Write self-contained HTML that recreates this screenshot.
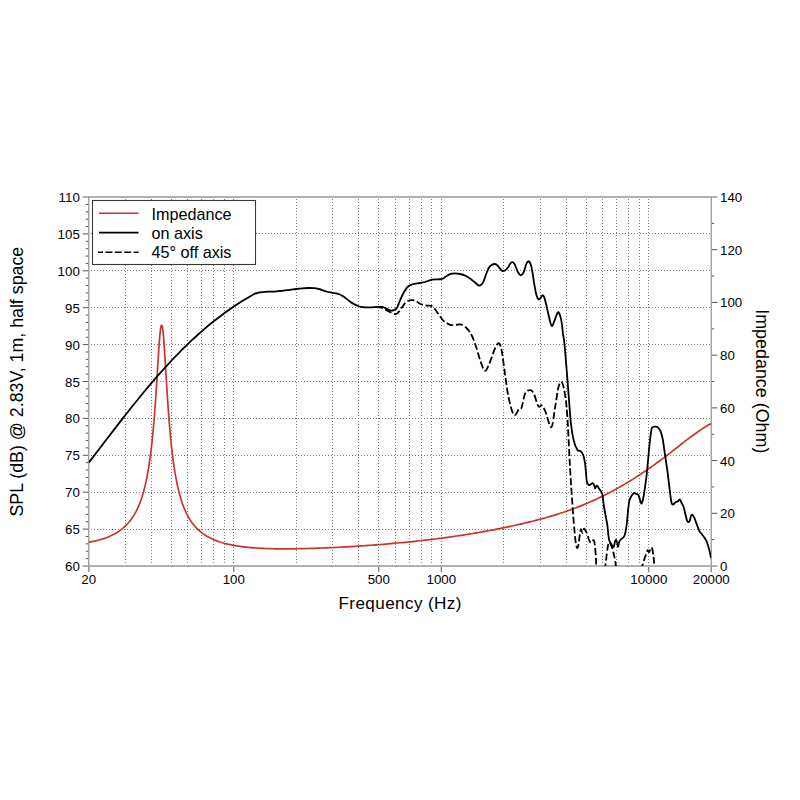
<!DOCTYPE html>
<html><head><meta charset="utf-8"><style>
html,body{margin:0;padding:0;background:#fff;}
svg{display:block;font-family:"Liberation Sans",sans-serif;}
</style></head><body>
<svg width="800" height="800" viewBox="0 0 800 800">
<rect width="800" height="800" fill="#fff"/>
<g stroke="#777" stroke-width="1" stroke-dasharray="1 2" fill="none">
<path d="M125.50 199.00 V566.00 M151.50 199.00 V566.00 M171.50 199.00 V566.00 M187.50 199.00 V566.00 M201.50 199.00 V566.00 M213.50 199.00 V566.00 M224.50 199.00 V566.00 M233.50 199.00 V566.00 M296.50 199.00 V566.00 M332.50 199.00 V566.00 M358.50 199.00 V566.00 M378.50 199.00 V566.00 M395.50 199.00 V566.00 M409.50 199.00 V566.00 M421.50 199.00 V566.00 M431.50 199.00 V566.00 M441.50 199.00 V566.00 M503.50 199.00 V566.00 M540.50 199.00 V566.00 M566.50 199.00 V566.00 M586.50 199.00 V566.00 M602.50 199.00 V566.00 M616.50 199.00 V566.00 M628.50 199.00 V566.00 M639.50 199.00 V566.00 M648.50 199.00 V566.00"/>
<path d="M91.00 529.50 H710.25 M91.00 492.50 H710.25 M91.00 455.50 H710.25 M91.00 418.50 H710.25 M91.00 381.50 H710.25 M91.00 344.50 H710.25 M91.00 307.50 H710.25 M91.00 270.50 H710.25 M91.00 233.50 H710.25"/>
</g>
<path d="M82.75 566.00 H88.75 M85.75 558.62 H88.75 M85.75 551.24 H88.75 M85.75 543.86 H88.75 M85.75 536.48 H88.75 M82.75 529.10 H88.75 M85.75 521.72 H88.75 M85.75 514.34 H88.75 M85.75 506.96 H88.75 M85.75 499.58 H88.75 M82.75 492.20 H88.75 M85.75 484.82 H88.75 M85.75 477.44 H88.75 M85.75 470.06 H88.75 M85.75 462.68 H88.75 M82.75 455.30 H88.75 M85.75 447.92 H88.75 M85.75 440.54 H88.75 M85.75 433.16 H88.75 M85.75 425.78 H88.75 M82.75 418.40 H88.75 M85.75 411.02 H88.75 M85.75 403.64 H88.75 M85.75 396.26 H88.75 M85.75 388.88 H88.75 M82.75 381.50 H88.75 M85.75 374.12 H88.75 M85.75 366.74 H88.75 M85.75 359.36 H88.75 M85.75 351.98 H88.75 M82.75 344.60 H88.75 M85.75 337.22 H88.75 M85.75 329.84 H88.75 M85.75 322.46 H88.75 M85.75 315.08 H88.75 M82.75 307.70 H88.75 M85.75 300.32 H88.75 M85.75 292.94 H88.75 M85.75 285.56 H88.75 M85.75 278.18 H88.75 M82.75 270.80 H88.75 M85.75 263.42 H88.75 M85.75 256.04 H88.75 M85.75 248.66 H88.75 M85.75 241.28 H88.75 M82.75 233.90 H88.75 M85.75 226.52 H88.75 M85.75 219.14 H88.75 M85.75 211.76 H88.75 M85.75 204.38 H88.75 M82.75 197.00 H88.75 M711.25 566.00 H717.25 M711.25 539.64 H714.25 M711.25 513.29 H717.25 M711.25 486.93 H714.25 M711.25 460.57 H717.25 M711.25 434.21 H714.25 M711.25 407.86 H717.25 M711.25 381.50 H714.25 M711.25 355.14 H717.25 M711.25 328.79 H714.25 M711.25 302.43 H717.25 M711.25 276.07 H714.25 M711.25 249.71 H717.25 M711.25 223.36 H714.25 M711.25 197.00 H717.25 M88.75 566.00 V572.00 M233.79 566.00 V572.00 M378.82 566.00 V572.00 M441.29 566.00 V572.00 M648.79 566.00 V572.00 M711.25 566.00 V572.00" stroke="#555" stroke-width="1" fill="none"/>
<path d="M82.75 197.0H717.25 M82.75 566.0H717.25" stroke="#b0b0b0" stroke-width="1.8" fill="none"/>
<path d="M88.75 197.0V572.0 M711.25 197.0V572.0" stroke="#999" stroke-width="1.3" fill="none"/>
<defs><clipPath id="cp"><rect x="88.75" y="197.0" width="622.5" height="369.0"/></clipPath></defs>
<g clip-path="url(#cp)" fill="none" stroke-linejoin="round">
<path d="M88.75 542.17 L90.32 541.90 L91.89 541.61 L93.46 541.30 L95.03 540.96 L96.60 540.60 L98.17 540.21 L99.74 539.79 L101.31 539.34 L102.88 538.85 L104.46 538.33 L106.03 537.78 L107.60 537.18 L109.17 536.53 L110.74 535.84 L112.31 535.09 L113.88 534.29 L115.45 533.42 L117.02 532.49 L118.59 531.48 L120.16 530.38 L121.73 529.20 L123.30 527.91 L124.87 526.50 L126.44 524.97 L128.01 523.29 L129.58 521.44 L131.15 519.40 L132.72 517.15 L134.29 514.64 L135.87 511.84 L137.44 508.70 L139.01 505.14 L140.58 501.10 L142.15 496.47 L143.72 491.13 L145.29 484.90 L146.86 477.58 L148.43 468.88 L150.00 458.45 L150.10 457.72 L150.31 456.15 L150.52 454.55 L150.73 452.90 L150.94 451.21 L151.15 449.48 L151.36 447.69 L151.56 445.87 L151.77 443.99 L151.98 442.06 L152.19 440.08 L152.40 438.04 L152.61 435.96 L152.82 433.81 L153.03 431.61 L153.24 429.35 L153.45 427.03 L153.66 424.64 L153.87 422.20 L154.08 419.69 L154.28 417.12 L154.49 414.48 L154.70 411.78 L154.91 409.01 L155.12 406.18 L155.33 403.28 L155.54 400.32 L155.75 397.30 L155.96 394.21 L156.17 391.07 L156.38 387.88 L156.59 384.64 L156.80 381.35 L157.01 378.03 L157.21 374.68 L157.42 371.31 L157.63 367.92 L157.84 364.54 L158.05 361.17 L158.26 357.83 L158.47 354.53 L158.68 351.29 L158.89 348.14 L159.10 345.09 L159.31 342.17 L159.52 339.40 L159.73 336.82 L159.93 334.44 L160.14 332.30 L160.35 330.43 L160.56 328.85 L160.77 327.57 L160.98 326.60 L161.19 325.92 L161.40 325.52 L161.61 325.39 L161.82 325.52 L162.03 325.91 L162.24 326.55 L162.45 327.47 L162.65 328.67 L162.86 330.16 L163.07 331.94 L163.28 334.00 L163.49 336.31 L163.70 338.86 L163.91 341.60 L164.12 344.52 L164.33 347.59 L164.54 350.77 L164.75 354.05 L164.96 357.40 L165.17 360.80 L165.37 364.24 L165.58 367.70 L165.79 371.16 L166.00 374.61 L166.21 378.05 L166.42 381.46 L166.63 384.84 L166.84 388.17 L167.05 391.46 L167.26 394.69 L167.47 397.86 L167.68 400.97 L167.89 404.02 L168.09 407.01 L168.30 409.93 L168.51 412.78 L168.72 415.56 L168.93 418.28 L169.14 420.93 L169.35 423.52 L169.56 426.04 L169.77 428.49 L169.98 430.88 L170.19 433.21 L170.40 435.47 L170.61 437.68 L170.82 439.83 L171.02 441.92 L171.23 443.96 L171.44 445.94 L171.65 447.87 L171.86 449.75 L172.07 451.58 L172.28 453.36 L172.49 455.10 L172.70 456.79 L172.91 458.43 L173.12 460.04 L173.33 461.60 L173.54 463.12 L173.74 464.61 L173.95 466.05 L174.16 467.47 L174.37 468.84 L174.58 470.18 L174.79 471.49 L175.00 472.77 L175.10 473.37 L177.55 486.12 L180.00 495.96 L182.44 503.72 L184.89 509.97 L187.34 515.10 L189.79 519.36 L192.24 522.95 L194.69 526.01 L197.13 528.64 L199.58 530.92 L202.03 532.91 L204.48 534.66 L206.93 536.20 L209.37 537.57 L211.82 538.78 L214.27 539.87 L216.72 540.84 L219.17 541.71 L221.62 542.49 L224.06 543.20 L226.51 543.84 L228.96 544.41 L231.41 544.93 L233.86 545.40 L236.30 545.82 L238.75 546.20 L241.20 546.55 L243.65 546.86 L246.10 547.14 L248.55 547.39 L250.99 547.61 L253.44 547.81 L255.89 547.99 L258.34 548.15 L260.79 548.29 L263.23 548.41 L265.68 548.51 L268.13 548.60 L270.58 548.67 L273.03 548.73 L275.48 548.78 L277.92 548.81 L280.37 548.83 L282.82 548.85 L285.27 548.85 L287.72 548.85 L290.16 548.83 L292.61 548.81 L295.06 548.78 L297.51 548.74 L299.96 548.69 L302.41 548.64 L304.85 548.59 L307.30 548.52 L309.75 548.45 L312.20 548.38 L314.65 548.30 L317.09 548.21 L319.54 548.12 L321.99 548.02 L324.44 547.92 L326.89 547.82 L329.33 547.71 L331.78 547.60 L334.23 547.48 L336.68 547.36 L339.13 547.23 L341.58 547.10 L344.02 546.97 L346.47 546.83 L348.92 546.68 L351.37 546.54 L353.82 546.39 L356.26 546.24 L358.71 546.08 L361.16 545.92 L363.61 545.75 L366.06 545.58 L368.51 545.41 L370.95 545.23 L373.40 545.05 L375.85 544.86 L378.30 544.67 L380.75 544.48 L383.19 544.28 L385.64 544.08 L388.09 543.87 L390.54 543.66 L392.99 543.44 L395.44 543.22 L397.88 543.00 L400.33 542.77 L402.78 542.53 L405.23 542.30 L407.68 542.05 L410.12 541.80 L412.57 541.55 L415.02 541.29 L417.47 541.02 L419.92 540.75 L422.37 540.48 L424.81 540.20 L427.26 539.91 L429.71 539.62 L432.16 539.33 L434.61 539.02 L437.05 538.72 L439.50 538.40 L441.95 538.08 L444.40 537.75 L446.85 537.42 L449.30 537.08 L451.74 536.74 L454.19 536.39 L456.64 536.03 L459.09 535.66 L461.54 535.29 L463.98 534.91 L466.43 534.53 L468.88 534.13 L471.33 533.73 L473.78 533.33 L476.23 532.91 L478.67 532.49 L481.12 532.06 L483.57 531.63 L486.02 531.18 L488.47 530.73 L490.91 530.27 L493.36 529.81 L495.81 529.33 L498.26 528.85 L500.71 528.36 L503.16 527.86 L505.60 527.35 L508.05 526.84 L510.50 526.32 L512.95 525.78 L515.40 525.24 L517.84 524.69 L520.29 524.14 L522.74 523.57 L525.19 522.99 L527.64 522.41 L530.09 521.81 L532.53 521.20 L534.98 520.58 L537.43 519.94 L539.88 519.29 L542.33 518.63 L544.77 517.96 L547.22 517.27 L549.67 516.56 L552.12 515.83 L554.57 515.09 L557.02 514.33 L559.46 513.56 L561.91 512.76 L564.36 511.94 L566.81 511.11 L569.26 510.25 L571.70 509.37 L574.15 508.47 L576.60 507.54 L579.05 506.59 L581.50 505.62 L583.94 504.62 L586.39 503.59 L588.84 502.54 L591.29 501.46 L593.74 500.36 L596.19 499.23 L598.63 498.07 L601.08 496.88 L603.53 495.67 L605.98 494.44 L608.43 493.18 L610.87 491.89 L613.32 490.58 L615.77 489.24 L618.22 487.87 L620.67 486.48 L623.12 485.07 L625.56 483.62 L628.01 482.16 L630.46 480.66 L632.91 479.15 L635.36 477.60 L637.80 476.03 L640.25 474.44 L642.70 472.82 L645.15 471.17 L647.60 469.50 L650.05 467.81 L652.49 466.08 L654.94 464.34 L657.39 462.56 L659.84 460.76 L662.29 458.94 L664.73 457.09 L667.18 455.21 L669.63 453.32 L672.08 451.41 L674.53 449.49 L676.98 447.56 L679.42 445.64 L681.87 443.73 L684.32 441.83 L686.77 439.95 L689.22 438.10 L691.66 436.27 L694.11 434.48 L696.56 432.73 L699.01 431.03 L701.46 429.37 L703.91 427.78 L706.35 426.25 L708.80 424.79 L711.25 423.40" stroke="#c8352c" stroke-width="1.7"/>
<path d="M376.00 307.20 C376.67 307.23 378.83 307.20 380.00 307.40 C381.17 307.60 382.00 307.97 383.00 308.40 C384.00 308.83 384.83 309.40 386.00 310.00 C387.17 310.60 388.50 311.33 390.00 312.00 C391.50 312.67 393.67 313.87 395.00 314.00 C396.33 314.13 396.83 313.92 398.00 312.80 C399.17 311.68 400.67 309.07 402.00 307.30 C403.33 305.53 404.50 303.38 406.00 302.20 C407.50 301.02 409.33 300.40 411.00 300.20 C412.67 300.00 414.50 300.40 416.00 301.00 C417.50 301.60 418.33 303.05 420.00 303.80 C421.67 304.55 424.12 305.15 426.00 305.50 C427.88 305.85 429.75 305.27 431.25 305.90 C432.75 306.52 433.75 307.82 435.00 309.25 C436.25 310.68 437.50 312.75 438.75 314.50 C440.00 316.25 441.25 318.38 442.50 319.75 C443.75 321.12 445.00 321.91 446.25 322.75 C447.50 323.59 448.75 324.41 450.00 324.80 C451.25 325.19 452.12 325.17 453.75 325.10 C455.38 325.03 458.25 324.42 459.75 324.40 C461.25 324.38 461.62 324.40 462.75 325.00 C463.88 325.60 465.38 326.88 466.50 328.00 C467.62 329.12 468.50 330.25 469.50 331.75 C470.50 333.25 471.62 335.12 472.50 337.00 C473.38 338.88 474.07 341.08 474.75 343.00 C475.43 344.92 475.62 345.40 476.60 348.50 C477.58 351.60 479.20 357.87 480.60 361.60 C482.00 365.33 483.53 370.60 485.00 370.90 C486.47 371.20 487.80 366.98 489.40 363.40 C491.00 359.82 493.06 352.76 494.60 349.40 C496.14 346.04 497.48 343.11 498.65 343.25 C499.82 343.39 500.53 345.00 501.60 350.25 C502.68 355.50 503.93 366.88 505.10 374.75 C506.27 382.62 507.13 390.79 508.60 397.50 C510.07 404.21 512.15 413.10 513.90 415.00 C515.65 416.90 517.79 410.22 519.10 408.90 C520.41 407.58 520.73 409.73 521.75 407.10 C522.77 404.47 523.79 395.93 525.25 393.10 C526.71 390.28 529.04 390.00 530.50 390.15 C531.96 390.30 532.68 391.32 534.00 394.00 C535.32 396.68 537.08 404.35 538.40 406.25 C539.72 408.15 540.73 404.52 541.90 405.40 C543.07 406.27 543.83 407.87 545.40 411.50 C546.97 415.13 549.70 427.78 551.30 427.20 C552.90 426.62 553.80 414.70 555.00 408.00 C556.20 401.30 557.39 391.32 558.50 387.00 C559.61 382.68 560.63 381.23 561.65 382.10 C562.67 382.98 563.67 386.77 564.60 392.25 C565.53 397.73 566.35 402.56 567.25 415.00 C568.15 427.44 569.08 451.07 570.00 466.90 C570.92 482.73 572.03 499.15 572.80 510.00 C573.57 520.85 574.08 526.42 574.60 532.00 C575.12 537.58 575.48 540.83 575.90 543.50 C576.32 546.17 576.70 547.70 577.10 548.00 C577.50 548.30 577.86 547.42 578.30 545.30 C578.74 543.17 579.32 537.92 579.75 535.25 C580.18 532.58 580.46 529.67 580.90 529.30 C581.34 528.92 581.90 533.07 582.40 533.00 C582.90 532.93 583.40 529.33 583.90 528.90 C584.40 528.47 584.84 529.53 585.40 530.40 C585.96 531.27 586.63 532.48 587.25 534.10 C587.87 535.72 588.48 538.66 589.10 540.10 C589.73 541.54 590.25 542.75 591.00 542.75 C591.75 542.75 592.98 539.85 593.60 540.10 C594.23 540.35 594.37 541.43 594.75 544.25 C595.13 547.07 595.64 553.33 595.90 557.00 C596.16 560.67 595.95 562.42 596.30 566.25 C596.65 570.08 596.88 577.71 598.00 580.00 C599.12 582.29 601.79 582.29 603.00 580.00 C604.21 577.71 604.35 572.29 605.25 566.25 C606.15 560.21 607.40 547.19 608.40 543.75 C609.40 540.31 610.32 543.73 611.25 545.60 C612.18 547.48 613.21 551.56 614.00 555.00 C614.79 558.44 615.33 562.08 616.00 566.25 C616.67 570.42 617.67 577.71 618.00 580.00" stroke="#000" stroke-width="1.8" stroke-dasharray="7 2.7"/>
<path d="M640.00 580.00 C640.40 577.58 641.25 570.17 642.40 565.50 C643.55 560.83 645.97 554.53 646.90 552.00 C647.83 549.47 647.60 550.30 648.00 550.30 C648.40 550.30 648.80 552.47 649.30 552.00 C649.80 551.53 650.47 547.88 651.00 547.50 C651.53 547.12 652.05 547.83 652.50 549.70 C652.95 551.57 653.38 555.98 653.70 558.70 C654.02 561.42 654.18 562.45 654.40 566.00 C654.62 569.55 654.90 577.67 655.00 580.00" stroke="#000" stroke-width="1.8" stroke-dasharray="7 2.7"/>
<path d="M88.75 462.64 L93.03 457.08 L97.30 451.49 L101.58 445.90 L105.85 440.31 L110.13 434.73 L114.40 429.17 L118.68 423.64 L122.96 418.15 L127.23 412.70 L131.51 407.31 L135.78 401.98 L140.06 396.71 L144.33 391.52 L148.61 386.41 L152.88 381.39 L157.16 376.45 L161.44 371.61 L165.71 366.87 L169.99 362.24 L174.26 357.71 L178.54 353.29 L182.81 348.98 L187.09 344.78 L191.37 340.70 L195.64 336.74 L199.92 332.90 L204.19 329.17 L208.47 325.56 L212.74 322.07 L217.02 318.70 L221.29 315.45 L225.57 312.30 L229.85 309.27 L234.12 306.35 L238.40 303.54 L242.67 300.83 L246.95 298.22 L251.22 295.71 L255.50 293.28 L255.50 293.50 C256.25 293.32 258.42 292.68 260.00 292.40 C261.58 292.12 263.33 291.92 265.00 291.80 C266.67 291.68 268.33 291.73 270.00 291.70 C271.67 291.67 273.33 291.72 275.00 291.60 C276.67 291.48 278.33 291.20 280.00 291.00 C281.67 290.80 283.33 290.58 285.00 290.40 C286.67 290.22 288.12 290.13 290.00 289.90 C291.88 289.67 294.25 289.25 296.25 289.00 C298.25 288.75 299.92 288.57 302.00 288.40 C304.08 288.23 306.75 288.03 308.75 288.00 C310.75 287.97 312.33 288.03 314.00 288.20 C315.67 288.37 317.33 288.67 318.75 289.00 C320.17 289.33 321.25 289.78 322.50 290.20 C323.75 290.62 324.58 291.07 326.25 291.50 C327.92 291.93 330.42 292.38 332.50 292.80 C334.58 293.22 336.88 293.34 338.75 294.00 C340.62 294.66 342.29 295.82 343.75 296.75 C345.21 297.68 346.25 298.66 347.50 299.60 C348.75 300.54 350.08 301.62 351.25 302.40 C352.42 303.18 353.46 303.74 354.50 304.30 C355.54 304.86 356.42 305.32 357.50 305.75 C358.58 306.18 359.75 306.62 361.00 306.90 C362.25 307.17 363.33 307.33 365.00 307.40 C366.67 307.47 368.92 307.37 371.00 307.30 C373.08 307.23 375.58 307.07 377.50 307.00 C379.42 306.93 381.04 306.63 382.50 306.90 C383.96 307.17 385.00 308.00 386.25 308.60 C387.50 309.20 388.71 310.23 390.00 310.50 C391.29 310.77 392.83 310.65 394.00 310.20 C395.17 309.75 396.00 309.42 397.00 307.80 C398.00 306.18 398.83 303.13 400.00 300.50 C401.17 297.87 402.67 294.33 404.00 292.00 C405.33 289.67 406.67 287.75 408.00 286.50 C409.33 285.25 410.00 285.08 412.00 284.50 C414.00 283.92 417.83 283.42 420.00 283.00 C422.17 282.58 423.00 282.55 425.00 282.00 C427.00 281.45 429.83 280.15 432.00 279.70 C434.17 279.25 436.33 279.42 438.00 279.30 C439.67 279.18 440.67 279.45 442.00 279.00 C443.33 278.55 444.67 277.40 446.00 276.60 C447.33 275.80 448.50 274.75 450.00 274.20 C451.50 273.65 453.33 273.33 455.00 273.30 C456.67 273.27 458.33 273.63 460.00 274.00 C461.67 274.37 463.33 274.75 465.00 275.50 C466.67 276.25 468.33 277.33 470.00 278.50 C471.67 279.67 473.50 281.32 475.00 282.50 C476.50 283.68 477.92 285.27 479.00 285.60 C480.08 285.93 480.75 285.18 481.50 284.50 C482.25 283.82 482.75 283.17 483.50 281.50 C484.25 279.83 485.08 276.83 486.00 274.50 C486.92 272.17 488.00 269.12 489.00 267.50 C490.00 265.88 491.08 265.38 492.00 264.80 C492.92 264.22 493.67 263.97 494.50 264.00 C495.33 264.03 496.08 264.25 497.00 265.00 C497.92 265.75 499.08 267.50 500.00 268.50 C500.92 269.50 501.67 270.67 502.50 271.00 C503.33 271.33 504.08 271.08 505.00 270.50 C505.92 269.92 507.17 268.58 508.00 267.50 C508.83 266.42 509.30 264.88 510.00 264.00 C510.70 263.12 511.45 262.20 512.20 262.20 C512.95 262.20 513.55 262.37 514.50 264.00 C515.45 265.63 516.87 270.12 517.90 272.00 C518.93 273.88 519.77 275.22 520.70 275.30 C521.63 275.38 522.57 274.38 523.50 272.50 C524.43 270.62 525.45 265.88 526.30 264.00 C527.15 262.12 527.85 261.15 528.60 261.25 C529.35 261.35 530.15 262.73 530.80 264.60 C531.45 266.48 531.93 269.31 532.50 272.50 C533.07 275.69 533.55 280.00 534.20 283.75 C534.85 287.50 535.65 292.38 536.40 295.00 C537.15 297.62 537.93 299.10 538.70 299.50 C539.47 299.90 540.35 298.12 541.00 297.40 C541.65 296.68 542.05 295.20 542.60 295.20 C543.15 295.20 543.63 295.56 544.30 297.40 C544.97 299.24 545.75 302.72 546.60 306.25 C547.45 309.78 548.53 315.31 549.40 318.60 C550.27 321.89 550.97 325.62 551.80 326.00 C552.63 326.38 553.40 323.17 554.40 320.90 C555.40 318.63 556.87 313.34 557.80 312.40 C558.73 311.46 559.34 313.47 560.00 315.25 C560.66 317.03 561.27 320.11 561.75 323.10 C562.23 326.09 562.52 330.38 562.90 333.20 C563.27 336.02 563.62 336.87 564.00 340.00 C564.38 343.13 564.70 346.33 565.20 352.00 C565.70 357.67 566.37 366.00 567.00 374.00 C567.63 382.00 568.33 391.67 569.00 400.00 C569.67 408.33 570.21 417.23 571.00 424.00 C571.79 430.77 572.67 436.27 573.75 440.60 C574.83 444.93 576.41 448.27 577.50 450.00 C578.59 451.73 579.37 450.22 580.30 451.00 C581.23 451.78 582.32 452.68 583.10 454.70 C583.88 456.72 584.53 460.22 585.00 463.10 C585.47 465.98 585.58 468.85 585.90 472.00 C586.22 475.15 586.42 479.83 586.90 482.00 C587.38 484.17 588.13 484.60 588.75 485.00 C589.37 485.40 589.98 484.72 590.60 484.40 C591.23 484.08 591.87 482.90 592.50 483.10 C593.13 483.30 593.98 484.70 594.40 485.60 C594.82 486.50 594.58 488.50 595.00 488.50 C595.42 488.50 596.27 485.67 596.90 485.60 C597.52 485.53 598.02 487.05 598.75 488.10 C599.48 489.15 600.62 490.75 601.25 491.90 C601.88 493.05 602.08 492.82 602.50 495.00 C602.92 497.18 603.33 502.08 603.75 505.00 C604.17 507.92 604.48 509.58 605.00 512.50 C605.52 515.42 606.48 520.21 606.90 522.50 C607.32 524.79 607.22 523.83 607.50 526.25 C607.78 528.67 608.27 534.54 608.60 537.00 C608.93 539.46 609.12 539.92 609.50 541.00 C609.88 542.08 610.36 542.62 610.90 543.50 C611.44 544.38 612.25 545.78 612.75 546.30 C613.25 546.82 613.52 547.40 613.90 546.60 C614.27 545.80 614.63 542.62 615.00 541.50 C615.37 540.38 615.73 539.60 616.10 539.90 C616.48 540.20 616.92 542.15 617.25 543.30 C617.58 544.45 617.79 546.98 618.10 546.80 C618.41 546.62 618.68 543.38 619.10 542.20 C619.52 541.03 619.91 540.53 620.60 539.75 C621.29 538.97 622.56 538.29 623.25 537.50 C623.94 536.71 624.34 536.08 624.75 535.00 C625.16 533.92 625.34 533.08 625.70 531.00 C626.06 528.92 626.50 526.00 626.90 522.50 C627.30 519.00 627.68 513.67 628.10 510.00 C628.52 506.33 628.88 502.79 629.40 500.50 C629.92 498.21 630.48 497.50 631.25 496.25 C632.02 495.00 633.17 493.38 634.00 493.00 C634.83 492.62 635.45 493.63 636.20 494.00 C636.95 494.37 637.75 493.82 638.50 495.20 C639.25 496.58 640.13 501.00 640.70 502.30 C641.27 503.60 641.43 503.88 641.90 503.00 C642.37 502.12 642.95 499.90 643.50 497.00 C644.05 494.10 644.63 489.68 645.20 485.60 C645.77 481.52 646.17 479.48 646.90 472.50 C647.63 465.52 648.83 450.93 649.60 443.75 C650.37 436.57 650.93 432.21 651.50 429.40 C652.07 426.59 652.33 427.37 653.00 426.90 C653.67 426.43 654.75 426.57 655.50 426.60 C656.25 426.63 656.68 426.40 657.50 427.10 C658.32 427.80 659.57 428.98 660.40 430.80 C661.23 432.62 661.78 434.40 662.50 438.00 C663.22 441.60 663.85 446.65 664.70 452.40 C665.55 458.15 666.65 465.32 667.60 472.50 C668.55 479.68 669.70 490.33 670.40 495.50 C671.10 500.67 671.28 502.05 671.80 503.50 C672.32 504.95 672.84 504.45 673.50 504.20 C674.16 503.95 675.00 502.47 675.75 502.00 C676.50 501.53 677.34 501.85 678.00 501.40 C678.66 500.95 679.13 499.12 679.70 499.30 C680.27 499.48 680.75 501.22 681.40 502.50 C682.05 503.78 682.95 505.12 683.60 507.00 C684.25 508.88 684.73 511.50 685.30 513.75 C685.87 516.00 686.52 519.12 687.00 520.50 C687.48 521.88 687.77 521.92 688.20 522.00 C688.63 522.08 689.05 522.17 689.60 521.00 C690.15 519.83 690.81 515.73 691.50 515.00 C692.19 514.27 692.90 515.12 693.75 516.60 C694.60 518.08 695.66 521.47 696.60 523.90 C697.54 526.33 698.47 529.42 699.40 531.20 C700.33 532.98 701.27 533.38 702.20 534.60 C703.13 535.82 704.16 537.10 705.00 538.50 C705.84 539.90 706.50 540.93 707.25 543.00 C708.00 545.07 708.88 548.40 709.50 550.90 C710.12 553.40 710.75 556.82 711.00 558.00" stroke="#000" stroke-width="1.8"/>
</g>
<rect x="92.5" y="200.5" width="163" height="64" fill="#fff" stroke="#3a3a3a" stroke-width="1.1"/>
<path d="M99 213.2H138.5" stroke="#c8352c" stroke-width="1.6"/>
<path d="M99 232.6H138.5" stroke="#000" stroke-width="1.6"/>
<path d="M98 252.3H139.5" stroke="#000" stroke-width="1.6" stroke-dasharray="5 2.4 7 2.4 7 2.4 7 2.4 5"/>
<g font-size="16.2" fill="#000">
<text x="151.5" y="219.5">Impedance</text>
<text x="151.5" y="239.1">on axis</text>
<text x="151.5" y="258.3">45° off axis</text>
</g>
<g font-size="13.3" fill="#000">
<text x="79.8" y="571.00" text-anchor="end">60</text>
<text x="79.8" y="534.10" text-anchor="end">65</text>
<text x="79.8" y="497.20" text-anchor="end">70</text>
<text x="79.8" y="460.30" text-anchor="end">75</text>
<text x="79.8" y="423.40" text-anchor="end">80</text>
<text x="79.8" y="386.50" text-anchor="end">85</text>
<text x="79.8" y="349.60" text-anchor="end">90</text>
<text x="79.8" y="312.70" text-anchor="end">95</text>
<text x="79.8" y="275.80" text-anchor="end">100</text>
<text x="79.8" y="238.90" text-anchor="end">105</text>
<text x="79.8" y="202.00" text-anchor="end">110</text>
<text x="720" y="571.00">0</text>
<text x="720" y="518.29">20</text>
<text x="720" y="465.57">40</text>
<text x="720" y="412.86">60</text>
<text x="720" y="360.14">80</text>
<text x="720" y="307.43">100</text>
<text x="720" y="254.71">120</text>
<text x="720" y="202.00">140</text>
<text x="88.75" y="584.0" text-anchor="middle">20</text>
<text x="233.79" y="584.0" text-anchor="middle">100</text>
<text x="378.82" y="584.0" text-anchor="middle">500</text>
<text x="441.29" y="584.0" text-anchor="middle">1000</text>
<text x="648.79" y="584.0" text-anchor="middle">10000</text>
<text x="711.25" y="584.0" text-anchor="middle">20000</text>
</g>
<text x="400.2" y="609.2" font-size="17.1" letter-spacing="0.4" text-anchor="middle">Frequency (Hz)</text>
<text transform="translate(22.9 381.7) rotate(-90)" font-size="17.8" text-anchor="middle">SPL (dB) @ 2.83V, 1m, half space</text>
<text transform="translate(756.3 381.3) rotate(90)" font-size="17.9" text-anchor="middle">Impedance (Ohm)</text>
</svg>
</body></html>
